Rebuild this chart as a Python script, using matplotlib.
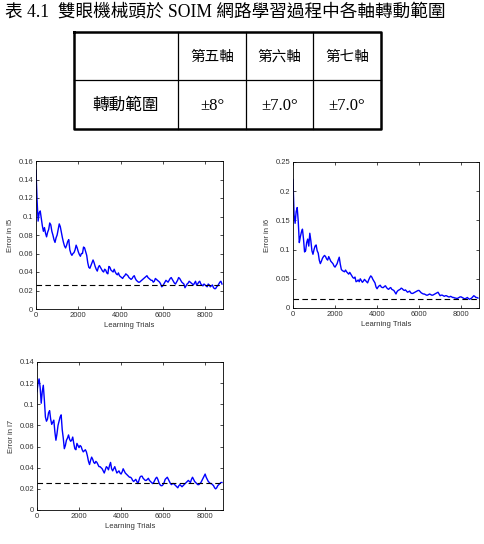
import numpy as np
import matplotlib
matplotlib.use('Agg')
import matplotlib.pyplot as plt
from matplotlib.ticker import FormatStrFormatter

# ---- data ----
# values at every 100 trials (0..8800) and the in-between ones (50..8750)
err_l5 = [0.150, 0.095, 0.106, 0.090, 0.088, 0.078, 0.086, 0.091, 0.080, 0.072,
          0.080, 0.092, 0.083, 0.072, 0.066, 0.073, 0.064, 0.058, 0.061, 0.069,
          0.062, 0.057, 0.060, 0.066, 0.058, 0.045, 0.047, 0.053, 0.046, 0.041,
          0.047, 0.043, 0.040, 0.042, 0.038, 0.045, 0.041, 0.043, 0.038, 0.039,
          0.035, 0.033, 0.036, 0.037, 0.034, 0.032, 0.035, 0.033, 0.030, 0.029,
          0.031, 0.033, 0.035, 0.034, 0.032, 0.031, 0.030, 0.032, 0.030, 0.027,
          0.025, 0.029, 0.030, 0.031, 0.034, 0.030, 0.027, 0.031, 0.033, 0.029,
          0.027, 0.025, 0.028, 0.029, 0.027, 0.028, 0.026, 0.029, 0.027, 0.025,
          0.026, 0.024, 0.026, 0.025, 0.023, 0.022, 0.025, 0.029, 0.027]
mid_l5 = [0.118, 0.104, 0.098, 0.084, 0.082, 0.083, 0.093, 0.084, 0.075, 0.077,
          0.086, 0.089, 0.077, 0.068, 0.069, 0.075, 0.060, 0.060, 0.064, 0.066,
          0.059, 0.060, 0.067, 0.062, 0.050, 0.044, 0.050, 0.050, 0.043, 0.045,
          0.045, 0.041, 0.043, 0.039, 0.046, 0.042, 0.040, 0.040, 0.037, 0.036,
          0.034, 0.035, 0.038, 0.036, 0.033, 0.033, 0.036, 0.031, 0.029, 0.030,
          0.032, 0.034, 0.036, 0.033, 0.031, 0.029, 0.033, 0.031, 0.029, 0.024,
          0.027, 0.031, 0.029, 0.033, 0.032, 0.028, 0.029, 0.034, 0.031, 0.028,
          0.023, 0.027, 0.030, 0.028, 0.026, 0.030, 0.027, 0.030, 0.026, 0.027,
          0.025, 0.027, 0.024, 0.026, 0.022, 0.024, 0.027, 0.030]

err_l6 = [0.220, 0.145, 0.172, 0.112, 0.130, 0.118, 0.098, 0.118, 0.128, 0.098,
          0.100, 0.108, 0.094, 0.076, 0.085, 0.090, 0.084, 0.088, 0.080, 0.076,
          0.070, 0.076, 0.087, 0.066, 0.063, 0.065, 0.060, 0.061, 0.055, 0.051,
          0.045, 0.048, 0.050, 0.044, 0.049, 0.045, 0.048, 0.055, 0.049, 0.043,
          0.033, 0.038, 0.036, 0.035, 0.038, 0.033, 0.034, 0.032, 0.030, 0.024,
          0.030, 0.032, 0.033, 0.030, 0.029, 0.028, 0.026, 0.025, 0.027, 0.029,
          0.030, 0.026, 0.024, 0.023, 0.022, 0.024, 0.022, 0.023, 0.025, 0.027,
          0.021, 0.022, 0.020, 0.021, 0.019, 0.020, 0.018, 0.017, 0.016, 0.018,
          0.019, 0.017, 0.016, 0.018, 0.015, 0.017, 0.021, 0.018, 0.017]
mid_l6 = [0.160, 0.165, 0.148, 0.122, 0.135, 0.096, 0.112, 0.106, 0.115, 0.092,
          0.106, 0.098, 0.082, 0.080, 0.088, 0.088, 0.082, 0.084, 0.078, 0.072,
          0.073, 0.082, 0.075, 0.064, 0.062, 0.062, 0.058, 0.058, 0.052, 0.053,
          0.046, 0.045, 0.047, 0.046, 0.047, 0.043, 0.052, 0.053, 0.046, 0.036,
          0.036, 0.039, 0.035, 0.037, 0.035, 0.032, 0.035, 0.031, 0.027, 0.028,
          0.031, 0.034, 0.031, 0.031, 0.027, 0.029, 0.025, 0.026, 0.028, 0.030,
          0.028, 0.025, 0.024, 0.022, 0.023, 0.023, 0.022, 0.024, 0.026, 0.024,
          0.022, 0.021, 0.021, 0.020, 0.019, 0.019, 0.018, 0.017, 0.017, 0.019,
          0.018, 0.016, 0.017, 0.016, 0.016, 0.019, 0.020, 0.018]

err_l7 = [0.112, 0.124, 0.101, 0.118, 0.088, 0.086, 0.094, 0.081, 0.085, 0.066,
          0.080, 0.088, 0.076, 0.058, 0.066, 0.071, 0.065, 0.069, 0.058, 0.063,
          0.059, 0.060, 0.055, 0.057, 0.051, 0.043, 0.050, 0.045, 0.046, 0.043,
          0.041, 0.039, 0.035, 0.041, 0.038, 0.045, 0.037, 0.041, 0.035, 0.037,
          0.034, 0.039, 0.035, 0.033, 0.031, 0.030, 0.027, 0.029, 0.025, 0.031,
          0.032, 0.029, 0.028, 0.030, 0.027, 0.025, 0.028, 0.031, 0.026, 0.023,
          0.024, 0.029, 0.031, 0.027, 0.024, 0.025, 0.023, 0.021, 0.024, 0.022,
          0.024, 0.026, 0.028, 0.026, 0.031, 0.027, 0.025, 0.024, 0.026, 0.030,
          0.034, 0.029, 0.026, 0.025, 0.023, 0.020, 0.023, 0.025, 0.026]
mid_l7 = [0.120, 0.116, 0.112, 0.104, 0.084, 0.092, 0.086, 0.083, 0.074, 0.072,
          0.084, 0.090, 0.068, 0.061, 0.068, 0.067, 0.066, 0.063, 0.057, 0.061,
          0.061, 0.057, 0.056, 0.055, 0.046, 0.047, 0.048, 0.044, 0.045, 0.041,
          0.040, 0.037, 0.038, 0.040, 0.042, 0.039, 0.039, 0.038, 0.036, 0.035,
          0.036, 0.037, 0.034, 0.032, 0.031, 0.028, 0.028, 0.027, 0.028, 0.032,
          0.030, 0.028, 0.029, 0.028, 0.026, 0.026, 0.030, 0.029, 0.024, 0.023,
          0.026, 0.030, 0.029, 0.025, 0.025, 0.024, 0.022, 0.023, 0.023, 0.023,
          0.025, 0.027, 0.027, 0.029, 0.029, 0.026, 0.024, 0.025, 0.028, 0.032,
          0.031, 0.027, 0.025, 0.024, 0.021, 0.021, 0.024, 0.026]

targets = [0.026, 0.016, 0.026]
ylims = [0.16, 0.25, 0.14]
ysteps = [0.02, 0.05, 0.02]
names = ['l5', 'l6', 'l7']

title = '表 4.1  雙眼機械頭於 SOIM 網路學習過程中各軸轉動範圍'
col_heads = ['第五軸', '第六軸', '第七軸']
row_head = '轉動範圍'
ranges = ['±8°', '±7.0°', '±7.0°']


def weave(on, mid):  # merge the 100-step and 50-offset readings
    y = np.empty(len(on) + len(mid))
    y[0::2] = on
    y[1::2] = mid
    return y


trials = np.arange(0, 8850, 50)
series = [weave(err_l5, mid_l5), weave(err_l6, mid_l6), weave(err_l7, mid_l7)]

W, H = 484, 544
fig = plt.figure(figsize=(W / 100, H / 100), dpi=100)

mix = ['Liberation Serif', 'Noto Sans CJK TC']

# page overlay in pixel coords for title + table
page = fig.add_axes([0, 0, 1, 1])
page.set_xlim(0, W)
page.set_ylim(H, 0)
page.axis('off')

page.text(5, 12, title, fontsize=12.7, family=mix, va='center', ha='left')

xs = [74, 178, 246, 313, 381]
ys = [32, 80, 129]
for x in xs[1:-1]:
    page.plot([x, x], [ys[0], ys[-1]], color='black', lw=0.9)
page.plot([xs[0], xs[-1]], [ys[1], ys[1]], color='black', lw=0.9)
page.plot([xs[0], xs[-1], xs[-1], xs[0], xs[0]],
          [ys[0], ys[0], ys[-1], ys[-1], ys[0]], color='black', lw=1.8)

for i, h in enumerate(col_heads):
    cx = (xs[i + 1] + xs[i + 2]) / 2
    page.text(cx, 57, h, fontsize=10.5, family=mix, ha='center', va='center')
    page.text(cx, 106, ranges[i], fontsize=12, family=mix, ha='center', va='center')
page.text((xs[0] + xs[1]) / 2, 106, row_head, fontsize=12, family=mix,
          ha='center', va='center')

# ---- three learning curves ----
boxes = [[36, 161, 223, 309], [293, 162, 479, 308], [37, 362, 223, 510]]
tick_col = '#333333'

for k in range(3):
    l, t, r, b = boxes[k]
    ax = fig.add_axes([l / W, (H - b) / H, (r - l) / W, (b - t) / H])
    ax.plot(trials, series[k], color='#0000ff', lw=1.0)
    ax.axhline(targets[k], color='black', lw=0.8, ls=(0, (5, 3)))
    ax.set_xlim(0, 8850)
    ax.set_ylim(0, ylims[k])
    ax.set_xticks([0, 2000, 4000, 6000, 8000])
    ax.set_yticks(np.arange(0, ylims[k] + 1e-9, ysteps[k]))
    ax.yaxis.set_major_formatter(FormatStrFormatter('%g'))
    ax.tick_params(direction='in', top=True, right=True, length=2.5, width=0.5,
                   labelsize=5.5, labelcolor=tick_col, pad=2)
    for lab in ax.get_xticklabels() + ax.get_yticklabels():
        lab.set_family('Liberation Sans')
    for s in ax.spines.values():
        s.set_linewidth(0.6)
    ax.set_xlabel('Learning Trials', fontsize=5.5, family='Liberation Sans',
                  color=tick_col, labelpad=2)
    ax.set_ylabel('Error in ' + names[k], fontsize=5.5, family='Liberation Sans',
                  color=tick_col, labelpad=3)

fig.savefig('out.png', dpi=100)
